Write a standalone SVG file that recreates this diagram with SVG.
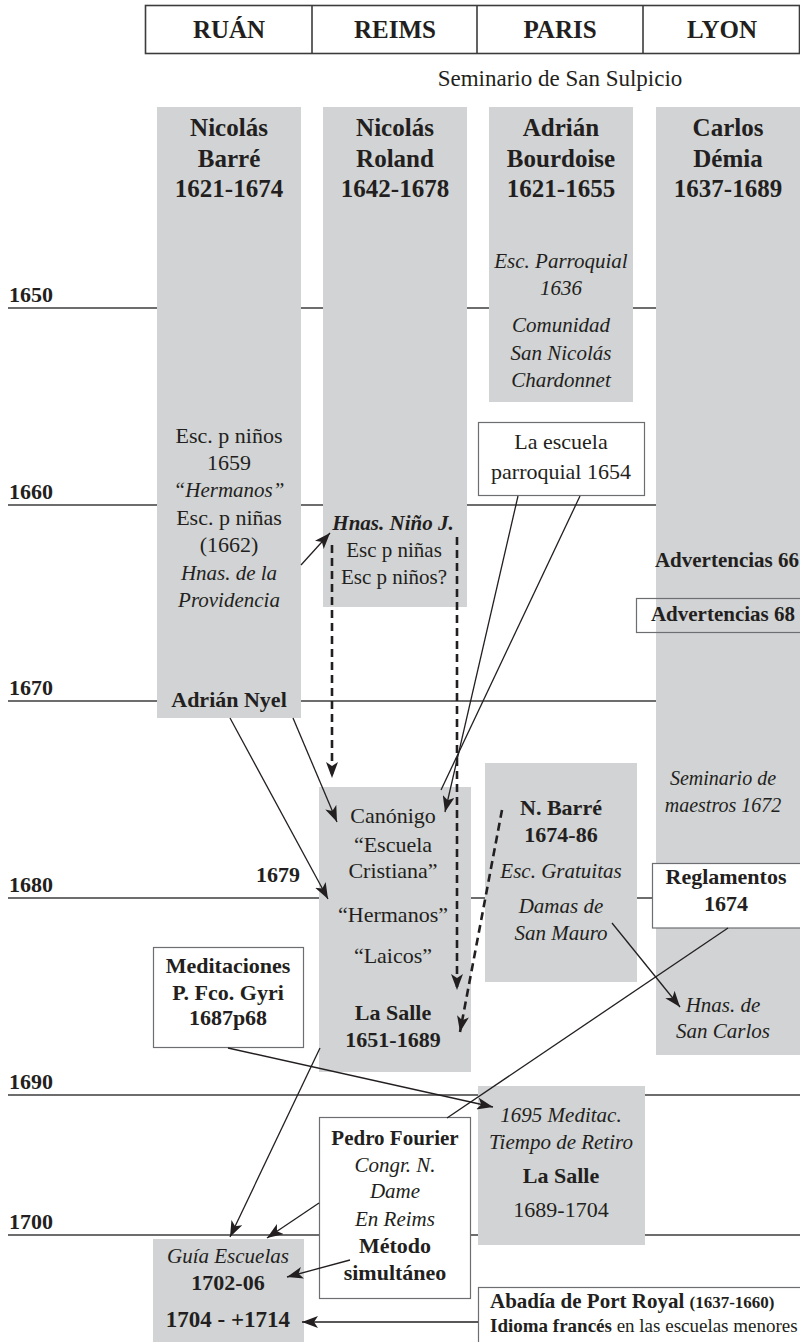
<svg xmlns="http://www.w3.org/2000/svg" width="800" height="1342" viewBox="0 0 800 1342">
<style>
.col{fill:#d1d3d4}
.yl{stroke:#3c3c3c;stroke-width:1.6}
.t{font-family:'Liberation Serif','Times New Roman','DejaVu Serif',serif;fill:#231f20;text-anchor:middle;font-size:21px}
.b{font-weight:bold}
.i{font-style:italic}
.h{font-size:25px;font-weight:bold}
.yr{font-family:'Liberation Serif','Times New Roman','DejaVu Serif',serif;fill:#231f20;font-size:22px;font-weight:bold}
.box{fill:#fff;stroke:#6d6e71;stroke-width:1.2}
.frame{fill:none;stroke:#6d6e71;stroke-width:1.2}
.arr{stroke:#231f20;stroke-width:1.3;fill:none;marker-end:url(#ah)}
.ln{stroke:#231f20;stroke-width:1.3;fill:none}
.dash{stroke:#231f20;stroke-width:2.6;stroke-dasharray:8 5;fill:none;marker-end:url(#ah)}
</style>
<defs>
<marker id="ah" markerUnits="userSpaceOnUse" markerWidth="18" markerHeight="12" refX="16" refY="6" orient="auto">
<path d="M0,0 L16,6 L0,12 L4,6 z" fill="#231f20"/>
</marker>
</defs>

<g id="header">
<rect x="145.5" y="5.5" width="654" height="48" fill="#fff" stroke="#3c3c3c" stroke-width="1.6"/>
<line x1="312" y1="5" x2="312" y2="54" stroke="#3c3c3c" stroke-width="1.6"/>
<line x1="477" y1="5" x2="477" y2="54" stroke="#3c3c3c" stroke-width="1.6"/>
<line x1="643" y1="5" x2="643" y2="54" stroke="#3c3c3c" stroke-width="1.6"/>
<text class="t b" x="229" y="38" style="font-size:25px">RUÁN</text>
<text class="t b" x="395" y="38" style="font-size:25px">REIMS</text>
<text class="t b" x="560" y="38" style="font-size:25px">PARIS</text>
<text class="t b" x="722" y="38" style="font-size:25px">LYON</text>
<text class="t" x="560" y="86" style="font-size:23px">Seminario de San Sulpicio</text>
</g>

<g id="years">
<line class="yl" x1="8" y1="308" x2="800" y2="308"/>
<line class="yl" x1="8" y1="505" x2="800" y2="505"/>
<line class="yl" x1="8" y1="701" x2="800" y2="701"/>
<line class="yl" x1="8" y1="898" x2="800" y2="898"/>
<line class="yl" x1="8" y1="1095" x2="800" y2="1095"/>
<line class="yl" x1="8" y1="1235" x2="800" y2="1235"/>
<text class="yr" x="9" y="302">1650</text>
<text class="yr" x="9" y="499">1660</text>
<text class="yr" x="9" y="695">1670</text>
<text class="yr" x="9" y="892">1680</text>
<text class="yr" x="9" y="1089">1690</text>
<text class="yr" x="9" y="1229">1700</text>
</g>

<g id="barre">
<rect class="col" x="157" y="107" width="144" height="611"/>
<text class="t h" x="229" y="136">Nicolás</text>
<text class="t h" x="229" y="167">Barré</text>
<text class="t h" x="229" y="197">1621-1674</text>
<text class="t" x="229" y="443" style="font-size:22px">Esc. p niños</text>
<text class="t" x="229" y="470" style="font-size:22px">1659</text>
<text class="t i" x="229" y="497">“Hermanos”</text>
<text class="t" x="229" y="525" style="font-size:22px">Esc. p niñas</text>
<text class="t" x="229" y="552" style="font-size:22px">(1662)</text>
<text class="t i" x="229" y="580">Hnas. de la</text>
<text class="t i" x="229" y="607">Providencia</text>
<text class="t b" x="229" y="707" style="font-size:22px">Adrián Nyel</text>
</g>

<g id="roland">
<rect class="col" x="323" y="107" width="144" height="500"/>
<text class="t h" x="395" y="136">Nicolás</text>
<text class="t h" x="395" y="167">Roland</text>
<text class="t h" x="395" y="197">1642-1678</text>
<text class="t b i" x="393" y="530">Hnas. Niño J.</text>
<text class="t" x="394" y="557">Esc p niñas</text>
<text class="t" x="394" y="584">Esc p niños?</text>
</g>

<g id="bourdoise">
<rect class="col" x="489" y="107" width="144" height="295"/>
<text class="t h" x="561" y="136">Adrián</text>
<text class="t h" x="561" y="167">Bourdoise</text>
<text class="t h" x="561" y="197">1621-1655</text>
<text class="t i" x="561" y="268">Esc. Parroquial</text>
<text class="t i" x="561" y="295">1636</text>
<text class="t i" x="561" y="332">Comunidad</text>
<text class="t i" x="561" y="360">San Nicolás</text>
<text class="t i" x="561" y="387">Chardonnet</text>
</g>

<g id="demia">
<rect class="col" x="656" y="107" width="144" height="948"/>
<text class="t h" x="728" y="136">Carlos</text>
<text class="t h" x="728" y="167">Démia</text>
<text class="t h" x="728" y="197">1637-1689</text>
<text class="t i" x="723" y="785" style="font-size:20px">Seminario de</text>
<text class="t i" x="723" y="812" style="font-size:20px">maestros 1672</text>
<text class="t i" x="723" y="1012">Hnas. de</text>
<text class="t i" x="723" y="1038">San Carlos</text>
</g>

<g id="advertencias66">
<text class="t b" x="799" y="567" style="text-anchor:end">Advertencias 66</text>
</g>

<g id="advertencias68">
<rect class="frame" x="636.5" y="598.5" width="170" height="34"/>
<text class="t b" x="795" y="621" style="text-anchor:end">Advertencias 68</text>
</g>

<g id="escuela1654">
<rect class="box" x="478.5" y="422.5" width="166" height="73"/>
<text class="t" x="561" y="449" style="font-size:22px">La escuela</text>
<text class="t" x="561" y="479" style="font-size:22px">parroquial 1654</text>
</g>

<g id="lasalle">
<rect class="col" x="319" y="787" width="152" height="285"/>
<text class="t" x="393" y="823" style="font-size:22px">Canónigo</text>
<text class="t" x="393" y="852" style="font-size:22px">“Escuela</text>
<text class="t" x="393" y="878" style="font-size:22px">Cristiana”</text>
<text class="t" x="393" y="922" style="font-size:22px">“Hermanos”</text>
<text class="t" x="393" y="963" style="font-size:22px">“Laicos”</text>
<text class="t b" x="393" y="1020" style="font-size:22px">La Salle</text>
<text class="t b" x="393" y="1047" style="font-size:22px">1651-1689</text>
</g>

<g id="y1679">
<text class="yr" x="300" y="882" style="text-anchor:end">1679</text>
</g>

<g id="nbarre">
<rect class="col" x="485" y="763" width="152" height="219"/>
<text class="t b" x="561" y="815" style="font-size:22px">N. Barré</text>
<text class="t b" x="561" y="842" style="font-size:22px">1674-86</text>
<text class="t i" x="561" y="878">Esc. Gratuitas</text>
<text class="t i" x="561" y="913">Damas de</text>
<text class="t i" x="561" y="940">San Mauro</text>
</g>

<g id="reglamentos">
<rect class="box" x="652.5" y="863.5" width="160" height="64.5"/>
<text class="t b" x="726" y="884" style="font-size:22px">Reglamentos</text>
<text class="t b" x="726" y="911" style="font-size:22px">1674</text>
</g>

<g id="meditaciones">
<rect class="box" x="153.5" y="947.5" width="150" height="100"/>
<text class="t b" x="228" y="973" style="font-size:22px">Meditaciones</text>
<text class="t b" x="228" y="1000" style="font-size:22px">P. Fco. Gyri</text>
<text class="t b" x="228" y="1025" style="font-size:22px">1687p68</text>
</g>

<g id="meditac1695">
<rect class="col" x="478" y="1086" width="167" height="159"/>
<text class="t i" x="561" y="1122">1695 Meditac.</text>
<text class="t i" x="561" y="1149">Tiempo de Retiro</text>
<text class="t b" x="561" y="1183" style="font-size:22px">La Salle</text>
<text class="t" x="561" y="1217" style="font-size:22px">1689-1704</text>
</g>

<g id="fourier">
<rect class="box" x="319.5" y="1117.5" width="151" height="181"/>
<text class="t b" x="395" y="1145">Pedro Fourier</text>
<text class="t i" x="395" y="1172">Congr. N.</text>
<text class="t i" x="395" y="1198">Dame</text>
<text class="t i" x="395" y="1226">En Reims</text>
<text class="t b" x="395" y="1253" style="font-size:22px">Método</text>
<text class="t b" x="395" y="1280" style="font-size:22px">simultáneo</text>
</g>

<g id="guia">
<rect class="col" x="153" y="1239" width="151" height="110"/>
<text class="t i" x="228" y="1263">Guía Escuelas</text>
<text class="t b" x="228" y="1290" style="font-size:22px">1702-06</text>
<text class="t b" x="228" y="1327" style="font-size:23px">1704 - +1714</text>
</g>

<g id="portroyal">
<rect class="box" x="478.5" y="1287.5" width="340" height="70"/>
<text class="t b" x="490" y="1308" style="text-anchor:start;font-size:21px">Abadía de Port Royal <tspan style="font-size:17px">(1637-1660)</tspan></text>
<text class="t" x="490" y="1332" style="text-anchor:start;font-size:19px"><tspan class="b">Idioma francés</tspan> en las escuelas menores</text>
</g>

<g id="connectors">
<line class="arr" x1="301" y1="565" x2="330" y2="533"/>
<line class="dash" x1="332" y1="545" x2="332" y2="778"/>
<line class="dash" x1="457" y1="537" x2="457" y2="990"/>
<line class="dash" x1="502" y1="810" x2="460" y2="1032"/>
<line class="ln" x1="580" y1="496" x2="441" y2="790"/>
<line class="arr" x1="518" y1="496" x2="445" y2="812"/>
<line class="arr" x1="230" y1="718" x2="328" y2="899"/>
<line class="arr" x1="293" y1="718" x2="337" y2="822"/>
<line class="arr" x1="612" y1="923" x2="680" y2="1007"/>
<line class="ln" x1="728" y1="928" x2="447" y2="1118"/>
<line class="arr" x1="228" y1="1048" x2="493" y2="1107"/>
<line class="arr" x1="320" y1="1048" x2="230" y2="1237"/>
<line class="arr" x1="319" y1="1203" x2="267" y2="1238"/>
<line class="arr" x1="350" y1="1260" x2="287" y2="1277"/>
<line class="arr" x1="478" y1="1322" x2="302" y2="1322"/>
</g>
</svg>
